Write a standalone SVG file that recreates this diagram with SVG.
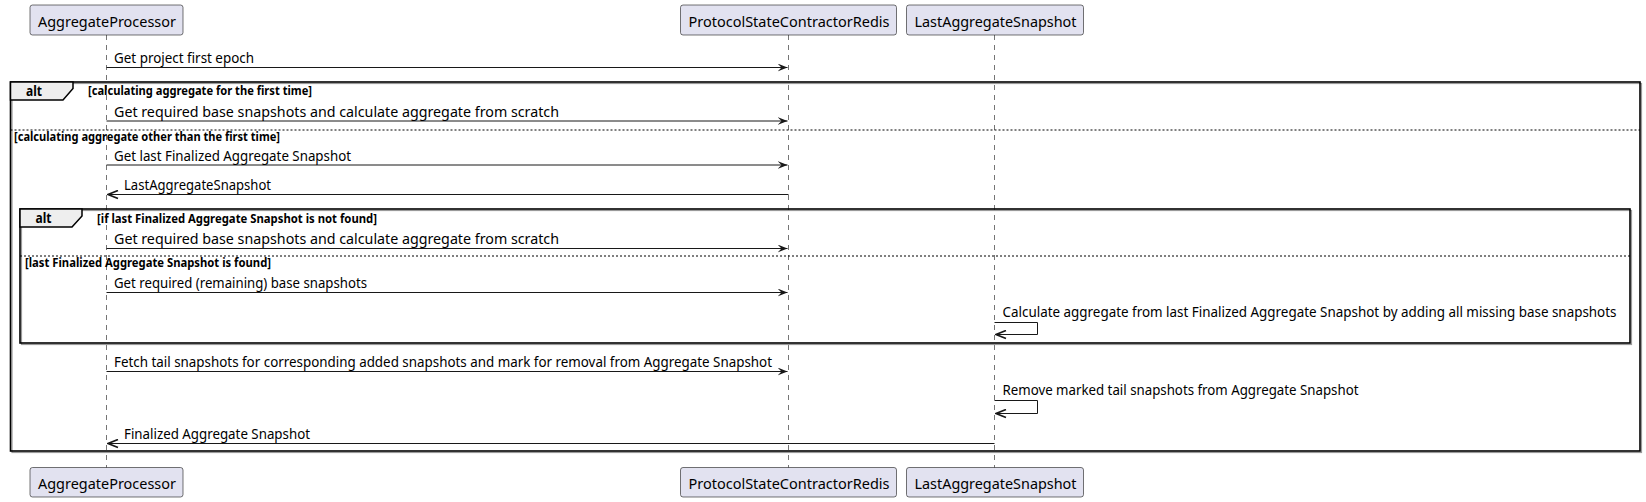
<svg xmlns="http://www.w3.org/2000/svg" width="1646" height="502" viewBox="0 0 1646 502">
<style>
.bg{fill:#FFFFFF}
.pbox{fill:#E2E2F0;stroke:#181818;stroke-width:0.6}
.pname{font-family:"Noto Sans","Liberation Sans",sans-serif;font-size:15px;fill:#000000}
.life{stroke:#181818;stroke-width:0.6;stroke-dasharray:5,5;fill:none}
.msg{font-family:"Noto Sans","Liberation Sans",sans-serif;font-size:14px;fill:#000000}
.guard{font-family:"Noto Sans","Liberation Sans",sans-serif;font-size:11.5px;font-weight:bold;fill:#000000}
.altl{font-family:"Noto Sans","Liberation Sans",sans-serif;font-size:14px;font-weight:bold;fill:#000000}
.frame{fill:none;stroke:#000000;stroke-width:1.6}
.shadow{fill:none;stroke:#9A9A9A;stroke-width:1.2}
.tab{fill:#EEEEEE;stroke:#000000;stroke-width:1.5}
.sep{stroke:#000000;stroke-width:1;stroke-dasharray:2,2}
.line{stroke:#181818;stroke-width:1;fill:none}
</style>
<defs>
<marker id="fwd" viewBox="0 0 10 8" refX="10" refY="4" markerWidth="10" markerHeight="8" markerUnits="userSpaceOnUse" orient="auto">
<path d="M0,0 L10,4 L0,8 L4,4 Z" fill="#181818"/>
</marker>
<marker id="open" viewBox="-1 -1 12 10" refX="10" refY="4" markerWidth="12" markerHeight="10" markerUnits="userSpaceOnUse" orient="auto">
<path d="M0,0 L10,4 L0,8" fill="none" stroke="#181818" stroke-width="1.7"/>
</marker>
</defs>
<rect class="bg" x="0" y="0" width="1646" height="502"/>

<g id="lifelines">
<line class="life" x1="106.5" y1="35" x2="106.5" y2="468"/>
<line class="life" x1="788.5" y1="35" x2="788.5" y2="468"/>
<line class="life" x1="994.5" y1="35" x2="994.5" y2="468"/>
</g>

<g id="frames">
<rect class="shadow" x="12" y="83.5" width="1629.5" height="369"/>
<rect class="frame" x="10.5" y="82" width="1629.5" height="369"/>
<polygon class="tab" points="10.5,82 73,82 73,88.5 63,100 10.5,100"/>
<text class="altl" x="26" y="96" textLength="16" lengthAdjust="spacingAndGlyphs">alt</text>
<text class="guard" x="88" y="95" textLength="224" lengthAdjust="spacingAndGlyphs">[calculating aggregate for the first time]</text>
<line class="sep" x1="10.5" y1="130" x2="1640" y2="130"/>
<text class="guard" x="14" y="141" textLength="266" lengthAdjust="spacingAndGlyphs">[calculating aggregate other than the first time]</text>

<rect class="shadow" x="21.5" y="210.5" width="1610" height="134"/>
<rect class="frame" x="20" y="209" width="1610" height="134"/>
<polygon class="tab" points="20,209 82,209 82,216 72,227 20,227"/>
<text class="altl" x="35.5" y="223" textLength="16" lengthAdjust="spacingAndGlyphs">alt</text>
<text class="guard" x="97" y="222.5" textLength="280" lengthAdjust="spacingAndGlyphs">[if last Finalized Aggregate Snapshot is not found]</text>
<line class="sep" x1="20" y1="256" x2="1630" y2="256"/>
<text class="guard" x="25" y="267" textLength="246" lengthAdjust="spacingAndGlyphs">[last Finalized Aggregate Snapshot is found]</text>
</g>

<g id="connectors">
<line class="line" x1="106.5" y1="67.5" x2="787.5" y2="67.5" marker-end="url(#fwd)"/>
<text class="msg" x="114" y="63" textLength="140" lengthAdjust="spacingAndGlyphs">Get project first epoch</text>

<line class="line" x1="106.5" y1="121" x2="787.5" y2="121" marker-end="url(#fwd)"/>
<text class="msg" x="114" y="116.5" textLength="445" lengthAdjust="spacingAndGlyphs">Get required base snapshots and calculate aggregate from scratch</text>

<line class="line" x1="106.5" y1="165" x2="787.5" y2="165" marker-end="url(#fwd)"/>
<text class="msg" x="114" y="160.5" textLength="237" lengthAdjust="spacingAndGlyphs">Get last Finalized Aggregate Snapshot</text>

<line class="line" x1="788.5" y1="194.5" x2="108" y2="194.5" marker-end="url(#open)"/>
<text class="msg" x="124" y="190" textLength="147" lengthAdjust="spacingAndGlyphs">LastAggregateSnapshot</text>

<line class="line" x1="106.5" y1="248.5" x2="787.5" y2="248.5" marker-end="url(#fwd)"/>
<text class="msg" x="114" y="244" textLength="445" lengthAdjust="spacingAndGlyphs">Get required base snapshots and calculate aggregate from scratch</text>

<line class="line" x1="106.5" y1="292.5" x2="787.5" y2="292.5" marker-end="url(#fwd)"/>
<text class="msg" x="114" y="288" textLength="253" lengthAdjust="spacingAndGlyphs">Get required (remaining) base snapshots</text>

<path class="line" d="M994.5,322.5 H1037.5 V334.5 H996" marker-end="url(#open)"/>
<text class="msg" x="1002.5" y="317" textLength="614" lengthAdjust="spacingAndGlyphs">Calculate aggregate from last Finalized Aggregate Snapshot by adding all missing base snapshots</text>

<line class="line" x1="106.5" y1="371.5" x2="787.5" y2="371.5" marker-end="url(#fwd)"/>
<text class="msg" x="114" y="367" textLength="658" lengthAdjust="spacingAndGlyphs">Fetch tail snapshots for corresponding added snapshots and mark for removal from Aggregate Snapshot</text>

<path class="line" d="M994.5,400.5 H1037.5 V413.5 H996" marker-end="url(#open)"/>
<text class="msg" x="1002.5" y="395" textLength="356" lengthAdjust="spacingAndGlyphs">Remove marked tail snapshots from Aggregate Snapshot</text>

<line class="line" x1="994.5" y1="443.5" x2="108" y2="443.5" marker-end="url(#open)"/>
<text class="msg" x="124" y="439" textLength="186" lengthAdjust="spacingAndGlyphs">Finalized Aggregate Snapshot</text>
</g>

<g id="AggregateProcessor">
<rect class="pbox" x="30" y="5" width="153" height="30" rx="2.5"/>
<text class="pname" x="38" y="26.5" textLength="138" lengthAdjust="spacingAndGlyphs">AggregateProcessor</text>
<rect class="pbox" x="30" y="467.5" width="153" height="29.5" rx="2.5"/>
<text class="pname" x="38" y="489" textLength="138" lengthAdjust="spacingAndGlyphs">AggregateProcessor</text>
</g>

<g id="ProtocolStateContractorRedis">
<rect class="pbox" x="680.5" y="5" width="216" height="30" rx="2.5"/>
<text class="pname" x="688.5" y="26.5" textLength="201" lengthAdjust="spacingAndGlyphs">ProtocolStateContractorRedis</text>
<rect class="pbox" x="680.5" y="467.5" width="216" height="29.5" rx="2.5"/>
<text class="pname" x="688.5" y="489" textLength="201" lengthAdjust="spacingAndGlyphs">ProtocolStateContractorRedis</text>
</g>

<g id="LastAggregateSnapshot">
<rect class="pbox" x="906.5" y="5" width="177" height="30" rx="2.5"/>
<text class="pname" x="914.5" y="26.5" textLength="162" lengthAdjust="spacingAndGlyphs">LastAggregateSnapshot</text>
<rect class="pbox" x="906.5" y="467.5" width="177" height="29.5" rx="2.5"/>
<text class="pname" x="914.5" y="489" textLength="162" lengthAdjust="spacingAndGlyphs">LastAggregateSnapshot</text>
</g>
</svg>
